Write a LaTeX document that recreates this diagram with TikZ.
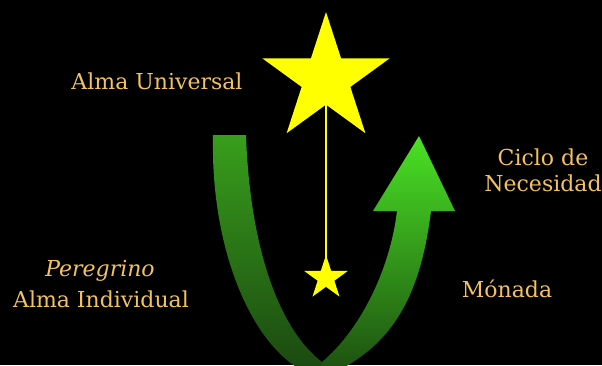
\documentclass[tikz,border=0pt]{standalone}
\usepackage{fontspec}
\setmainfont{DejaVu Serif}
\definecolor{txt}{HTML}{F2C260}
\definecolor{staryel}{HTML}{FFFF00}
\tikzset{
  lbl/.style={text=txt, font=\fontsize{22}{26}\selectfont, inner sep=0pt, align=center},
  starfill/.style={fill=staryel, draw=none},
}
\begin{document}
\begin{tikzpicture}[x=1pt,y=-1pt]
\useasboundingbox (0,0) rectangle (602,365);
\fill[black] (0,0) rectangle (602,365);
\clip (0,0) rectangle (602,365);
% green U arrow, left part
\shade[top color={rgb,255:red,56;green,158;blue,28}, bottom color={rgb,255:red,26;green,70;blue,16}]
  (213,135) -- (246,135)
  .. controls (250,250) and (280,330) .. (322,362) -- (322,378)
  .. controls (260,365) and (210,260) .. (213,135) -- cycle;
% green U arrow, right part with head
\shade[top color={rgb,255:red,74;green,226;blue,36}, bottom color={rgb,255:red,28;green,76;blue,16}]
  (322,362) .. controls (360,330) and (390,270) .. (397,211)
  -- (373,211) -- (419,136) -- (455,211) -- (431,211)
  .. controls (420,300) and (390,350) .. (322,378) -- cycle;
% stars
\coordinate (bigc) at (326,79);
\coordinate (smallc) at (326,278);
\draw[staryel, line width=1.2pt] (bigc) -- (smallc);
\fill[starfill] (bigc) +(-90:67) -- +(-54:25.6) -- +(-18:67) -- +(18:25.6) -- +(54:67)
  -- +(90:25.6) -- +(126:67) -- +(162:25.6) -- +(198:67) -- +(234:25.6) -- cycle;
\fill[starfill] (smallc) +(-90:23) -- +(-54:8.8) -- +(-18:23) -- +(18:8.8) -- +(54:23)
  -- +(90:8.8) -- +(126:23) -- +(162:8.8) -- +(198:23) -- +(234:8.8) -- cycle;
% labels
\node[lbl] (universal) at (157,81) {Alma Universal};
\node[lbl] (ciclo) at (543,170) {Ciclo de\\Necesidad};
\node[lbl] (peregrino) at (100,271) {\itshape Peregrino};
\node[lbl] (individual) at (101,299) {Alma Individual};
\node[lbl] (monada) at (507,289) {Mónada};
\end{tikzpicture}
\end{document}
